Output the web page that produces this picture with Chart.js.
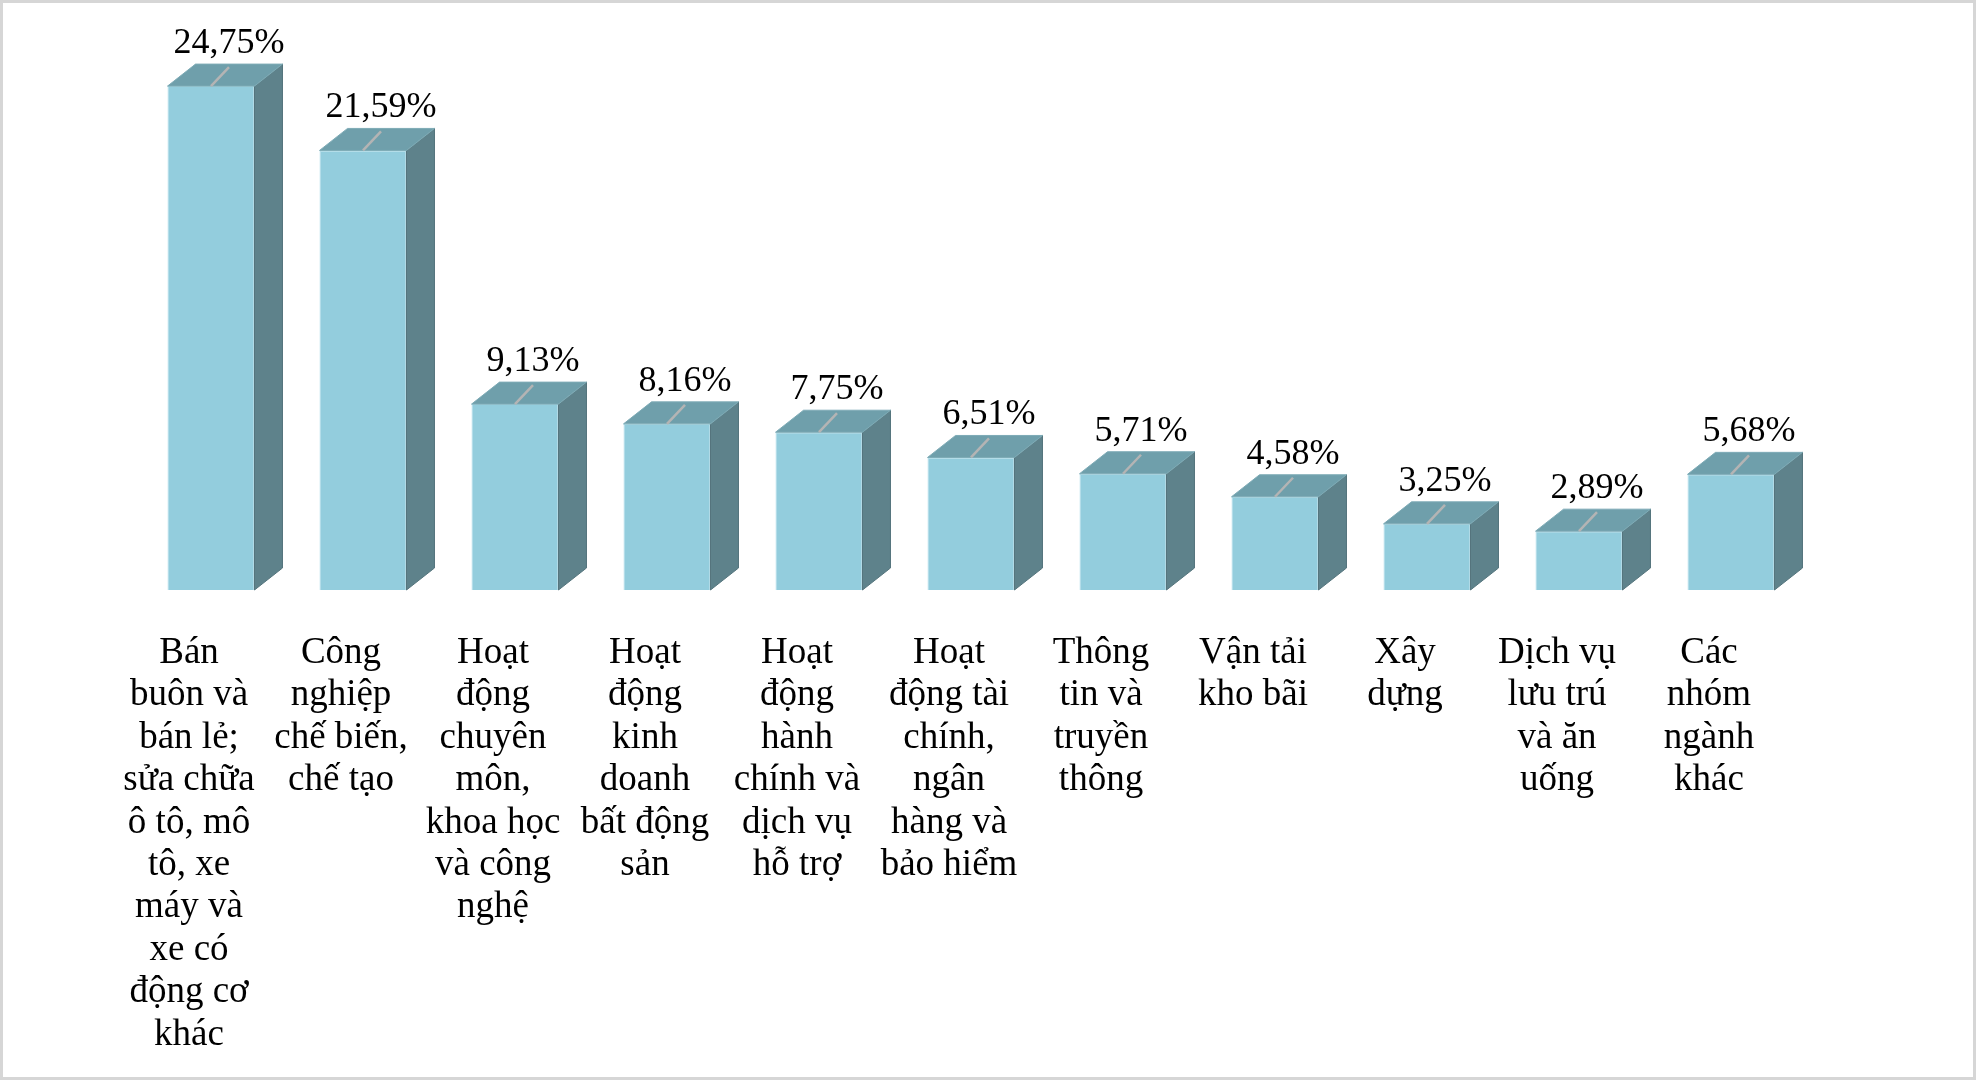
<!DOCTYPE html>
<html>
<head>
<meta charset="utf-8">
<script src="https://cdn.jsdelivr.net/npm/chart.js@4.4.1/dist/chart.umd.min.js"></script>
<style>
  body { margin: 0; background: #fff; }
  #wrap { position: relative; width: 1976px; height: 1080px; }
  #frame { position: absolute; left: 0; top: 0; width: 1976px; height: 1080px; box-sizing: border-box;
           border: 3px solid #d6d6d6; pointer-events: none; }
</style>
</head>
<body>
<div id="wrap">
  <canvas id="sectorChart" width="1976" height="1080"></canvas>
  <div id="frame"></div>
</div>
<script>
// categories (already broken into lines as in the source)
const categories = [
    ['Bán', 'buôn và', 'bán lẻ;', 'sửa chữa', 'ô tô, mô', 'tô, xe', 'máy và', 'xe có', 'động cơ', 'khác'],
    ['Công', 'nghiệp', 'chế biến,', 'chế tạo'],
    ['Hoạt', 'động', 'chuyên', 'môn,', 'khoa học', 'và công', 'nghệ'],
    ['Hoạt', 'động', 'kinh', 'doanh', 'bất động', 'sản'],
    ['Hoạt', 'động', 'hành', 'chính và', 'dịch vụ', 'hỗ trợ'],
    ['Hoạt', 'động tài', 'chính,', 'ngân', 'hàng và', 'bảo hiểm'],
    ['Thông', 'tin và', 'truyền', 'thông'],
    ['Vận tải', 'kho bãi'],
    ['Xây', 'dựng'],
    ['Dịch vụ', 'lưu trú', 'và ăn', 'uống'],
    ['Các', 'nhóm', 'ngành', 'khác']
];
const shares = [24.75, 21.59, 9.13, 8.16, 7.75, 6.51, 5.71, 4.58, 3.25, 2.89, 5.68];

const FRONT = '#93cddd';
const TOP = '#6f9fab';
const SIDE = '#5e828b';
const DEPTH_X = 28;
const DEPTH_Y = 22;

// draws the top and side faces of each bar, then the value labels with leader lines
const boxPlugin = {
    id: 'boxFaces',
    afterDatasetsDraw(chart) {
        const ctx = chart.ctx;
        const meta = chart.getDatasetMeta(0);
        ctx.save();
        meta.data.forEach((bar, i) => {
            const p = bar.getProps(['x', 'y', 'base', 'width'], true);
            const left = p.x - p.width / 2;
            const right = p.x + p.width / 2;
            const top = p.y;
            const bottom = p.base;

            // side face
            ctx.beginPath();
            ctx.moveTo(right, top);
            ctx.lineTo(right + DEPTH_X, top - DEPTH_Y);
            ctx.lineTo(right + DEPTH_X, bottom - DEPTH_Y);
            ctx.lineTo(right, bottom);
            ctx.closePath();
            ctx.fillStyle = SIDE;
            ctx.fill();
            ctx.strokeStyle = '#54747c';
            ctx.lineWidth = 1;
            ctx.stroke();

            // top face
            ctx.beginPath();
            ctx.moveTo(left, top);
            ctx.lineTo(left + DEPTH_X, top - DEPTH_Y);
            ctx.lineTo(right + DEPTH_X, top - DEPTH_Y);
            ctx.lineTo(right, top);
            ctx.closePath();
            ctx.fillStyle = TOP;
            ctx.fill();
            ctx.strokeStyle = '#7eabb6';
            ctx.stroke();

            // value label + leader line
            const lx = p.x + 18;
            const baseLine = top - 33;
            ctx.beginPath();
            ctx.moveTo(p.x, top);
            ctx.lineTo(lx, baseLine + 14);
            ctx.strokeStyle = '#b4b4b4';
            ctx.lineWidth = 2.5;
            ctx.stroke();

            ctx.fillStyle = '#000';
            ctx.font = '36px "Liberation Serif", "Times New Roman", serif';
            ctx.textAlign = 'center';
            ctx.textBaseline = 'alphabetic';
            ctx.fillText(shares[i].toFixed(2).replace('.', ',') + '%', lx, baseLine);
        });
        ctx.restore();
    }
};

const ctx = document.getElementById('sectorChart').getContext('2d');
new Chart(ctx, {
    type: 'bar',
    data: {
        labels: categories,
        datasets: [{
            data: shares,
            backgroundColor: FRONT,
            borderColor: '#a9dbe8',
            borderWidth: 1,
            barPercentage: 0.572,
            categoryPercentage: 1.0
        }]
    },
    options: {
        responsive: false,
        animation: false,
        layout: {
            padding: { left: 135, right: 169, top: 81, bottom: 0 }
        },
        plugins: {
            legend: { display: false },
            tooltip: { enabled: false }
        },
        scales: {
            x: {
                grid: { display: false, drawTicks: false },
                border: { display: false },
                afterFit: (scale) => { scale.height = 490; },
                ticks: {
                    color: '#000',
                    padding: 42,
                    labelOffset: -22,
                    maxRotation: 0,
                    autoSkip: false,
                    font: { family: '"Liberation Serif", "Times New Roman", serif', size: 37, lineHeight: 1.146 }
                }
            },
            y: {
                display: false,
                min: 0,
                max: 25
            }
        }
    },
    plugins: [boxPlugin]
});
</script>
</body>
</html>
